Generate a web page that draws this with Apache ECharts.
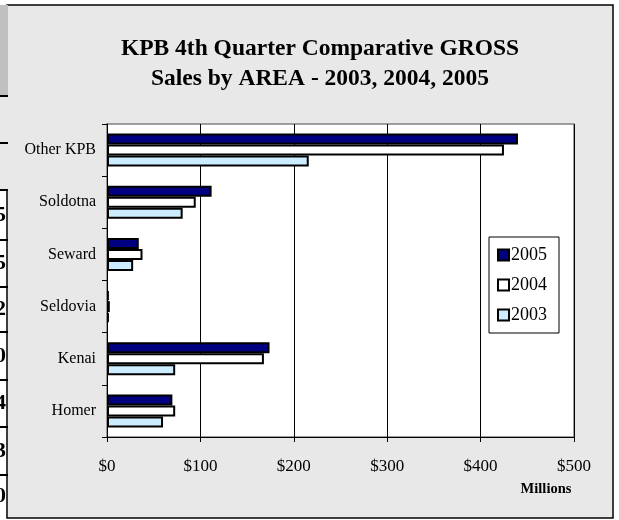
<!DOCTYPE html>
<html>
<head>
<meta charset="utf-8">
<script src="https://cdn.jsdelivr.net/npm/echarts@6/dist/echarts.min.js"></script>
<style>
  html, body { margin: 0; padding: 0; background: #fff; }
  #chart { width: 619px; height: 520px; }
</style>
</head>
<body>
<div id="chart"></div>
<script>
const areas = ['Homer', 'Kenai', 'Seldovia', 'Seward', 'Soldotna', 'Other KPB'];
const sales2003 = [60, 73, 2, 28, 81, 216];
const sales2004 = [73, 168, 3, 38, 95, 425];
const sales2005 = [70, 174, 2, 34, 112, 440];
const xTicks = [0, 100, 200, 300, 400, 500];
// partly visible table on the left edge
const edgeDigits = ['5', '5', '2', '0', '4', '3', '0'];

const serif = 'Liberation Serif';
const chart = echarts.init(document.getElementById('chart'));

const edgeLines = [96, 143, 190, 240, 287, 332, 380, 427, 475];
const edgeGraphics = [
  { type: 'rect', shape: { x: 0, y: 5, width: 8, height: 91 }, style: { fill: '#c0c0c0' }, z: 0 },
  { type: 'rect', shape: { x: 0, y: 96, width: 8, height: 94 }, style: { fill: '#e8e8e8' }, z: 0 }
];
edgeLines.forEach(y => {
  edgeGraphics.push({ type: 'line', shape: { x1: 0, y1: y, x2: 8, y2: y }, style: { stroke: '#000', lineWidth: 2 }, z: 1 });
});
edgeDigits.forEach((d, i) => {
  const y0 = edgeLines[i + 2];
  const y1 = edgeLines[i + 3] || 518;
  edgeGraphics.push({
    type: 'text', x: 6, y: (y0 + y1) / 2, z: 1,
    style: { text: d, font: 'bold 22px "Liberation Serif"', fill: '#000', align: 'right', verticalAlign: 'middle' }
  });
});

const barStyle = color => ({ color: color, borderColor: '#000', borderWidth: 2 });

chart.setOption({
  backgroundColor: '#ffffff',
  title: {
    text: 'KPB 4th Quarter Comparative GROSS\nSales by AREA - 2003, 2004, 2005',
    left: 315,
    textAlign: 'center',
    top: 29,
    textStyle: { fontFamily: serif, fontWeight: 'bold', fontSize: 23.5, lineHeight: 30, color: '#000' }
  },
  legend: {
    orient: 'vertical',
    left: 489,
    top: 237,
    data: ['2005', '2004', '2003'],
    icon: 'rect',
    itemWidth: 11,
    itemHeight: 11,
    itemGap: 12,
    padding: [9, 12, 9, 8],
    backgroundColor: '#fff',
    borderColor: '#000',
    borderWidth: 1,
    textStyle: { fontFamily: serif, fontSize: 18, color: '#000', padding: [0, 0, 0, -3] }
  },
  grid: {
    left: 107, right: 45, top: 124, bottom: 83,
    show: true, backgroundColor: '#fff', borderColor: '#808080', borderWidth: 1.5
  },
  xAxis: {
    type: 'value',
    min: 0, max: 500, interval: 100,
    axisLine: { show: true, lineStyle: { color: '#000' } },
    axisTick: { show: true, length: 5, lineStyle: { color: '#000' } },
    splitLine: { lineStyle: { color: '#000', width: 1 } },
    axisLabel: {
      margin: 21, fontFamily: serif, fontSize: 17, color: '#000',
      customValues: xTicks,
      formatter: v => '$' + v
    }
  },
  yAxis: {
    type: 'category',
    data: areas,
    axisLine: { show: true, lineStyle: { color: '#000' } },
    axisTick: { show: true, length: 5, lineStyle: { color: '#000' } },
    axisLabel: { margin: 11, fontFamily: serif, fontSize: 16, color: '#000' }
  },
  graphic: edgeGraphics.concat([
    {
      type: 'rect', z: -10, silent: true,
      shape: { x: 7, y: 5, width: 606, height: 513 },
      style: { fill: '#e8e8e8', stroke: '#000', lineWidth: 1.5 }
    },
    {
      type: 'text', x: 546, y: 489, z: 5,
      style: { text: 'Millions', font: 'bold 14.5px "Liberation Serif"', fill: '#000', align: 'center', verticalAlign: 'middle' }
    }
  ]),
  series: [
    { name: '2005', type: 'bar', data: sales2005, barWidth: 11, barGap: '0%', itemStyle: barStyle('#000080') },
    { name: '2004', type: 'bar', data: sales2004, barWidth: 11, barGap: '0%', itemStyle: barStyle('#ffffff') },
    { name: '2003', type: 'bar', data: sales2003, barWidth: 11, barGap: '0%', itemStyle: barStyle('#ccecff') }
  ]
});
</script>
</body>
</html>
